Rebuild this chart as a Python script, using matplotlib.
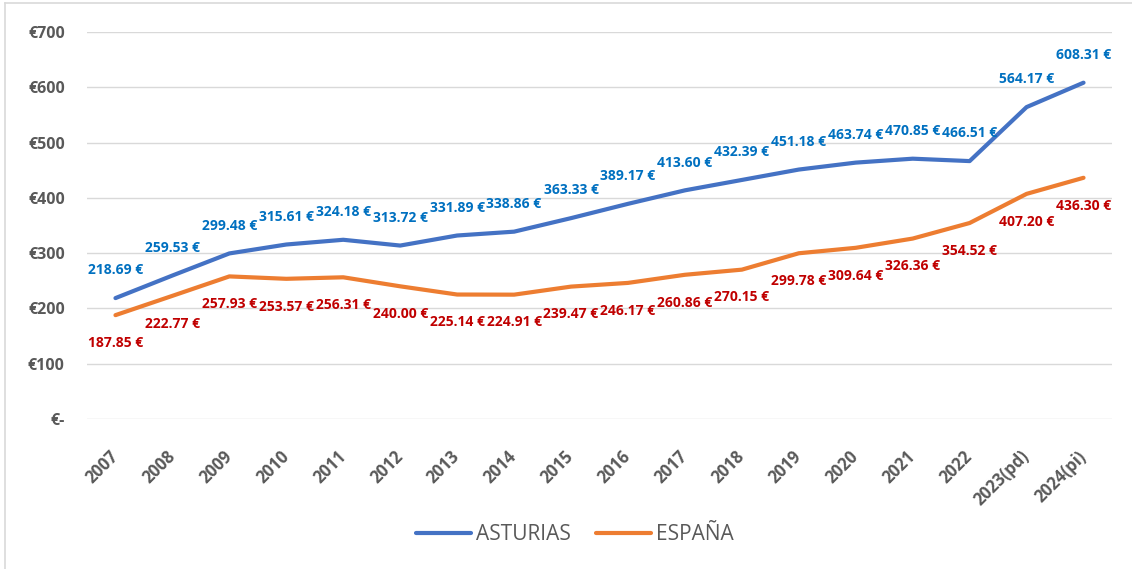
import matplotlib.pyplot as plt
from matplotlib.lines import Line2D

years = ['2007', '2008', '2009', '2010', '2011', '2012', '2013', '2014', '2015',
         '2016', '2017', '2018', '2019', '2020', '2021', '2022', '2023(pd)', '2024(pi)']
asturias = [218.69, 259.53, 299.48, 315.61, 324.18, 313.72, 331.89, 338.86, 363.33,
            389.17, 413.60, 432.39, 451.18, 463.74, 470.85, 466.51, 564.17, 608.31]
espana = [187.85, 222.77, 257.93, 253.57, 256.31, 240.00, 225.14, 224.91, 239.47,
          246.17, 260.86, 270.15, 299.78, 309.64, 326.36, 354.52, 407.20, 436.30]
yticks = [0, 100, 200, 300, 400, 500, 600, 700]
ytick_labels = ['€-', '€100', '€200', '€300', '€400', '€500', '€600', '€700']

plt.rcParams['font.family'] = ['Open Sans', 'DejaVu Sans']

W, H = 1132, 569
fig = plt.figure(figsize=(W / 100, H / 100), dpi=100)
ax = fig.add_axes([87 / W, 1 - 419 / H, (1112 - 87) / W, (419 - 32) / H])

x = list(range(len(years)))
ax.plot(x, asturias, color='#4472C4', lw=3, solid_capstyle='round', label='ASTURIAS', zorder=3)
ax.plot(x, espana, color='#ED7D31', lw=3, solid_capstyle='round', label='ESPAÑA', zorder=3)

# etiquetas de datos
for xi, v in zip(x, asturias):
    ax.annotate(f'{v:.2f} €', (xi, v), xytext=(0, 20), textcoords='offset points',
                ha='center', va='center', color='#0070C0', fontsize=10, fontweight='bold')
for xi, v in zip(x, espana):
    ax.annotate(f'{v:.2f} €', (xi, v), xytext=(0, -20), textcoords='offset points',
                ha='center', va='center', color='#C00000', fontsize=10, fontweight='bold')

ax.set_xlim(-0.5, len(years) - 0.5)
ax.set_ylim(0, 700)
ax.set_yticks(yticks)
ax.set_yticklabels(ytick_labels, fontweight='bold')
ax.set_xticks(x)
ax.set_xticklabels(years, rotation=45, ha='right', va='center', rotation_mode='anchor',
                   fontweight='bold')
ax.tick_params(length=0, labelsize=11.5, labelcolor='#595959')
ax.tick_params(axis='y', pad=16)
ax.tick_params(axis='x', pad=25, labelsize=12)

ax.grid(axis='y', color='#D9D9D9', lw=1)
ax.set_axisbelow(True)
for s in ax.spines.values():
    s.set_visible(False)

handles = [Line2D([], [], color='#4472C4', lw=3, solid_capstyle='round'),
           Line2D([], [], color='#ED7D31', lw=3, solid_capstyle='round')]
fig.legend(handles, ['ASTURIAS', 'ESPAÑA'], loc='center', bbox_to_anchor=(575 / W, 1 - 535 / H),
           ncol=2, frameon=False, fontsize=15, labelcolor='#595959',
           handlelength=2.65, handletextpad=0.25, columnspacing=1.2)

# marco del área del gráfico
fig.add_artist(Line2D([5 / W, 1], [1 - 3 / H, 1 - 3 / H], color='#D9D9D9', lw=1.2))
fig.add_artist(Line2D([5 / W, 5 / W], [0, 1 - 3 / H], color='#D9D9D9', lw=1.2))

fig.savefig('out.png', dpi=100)
